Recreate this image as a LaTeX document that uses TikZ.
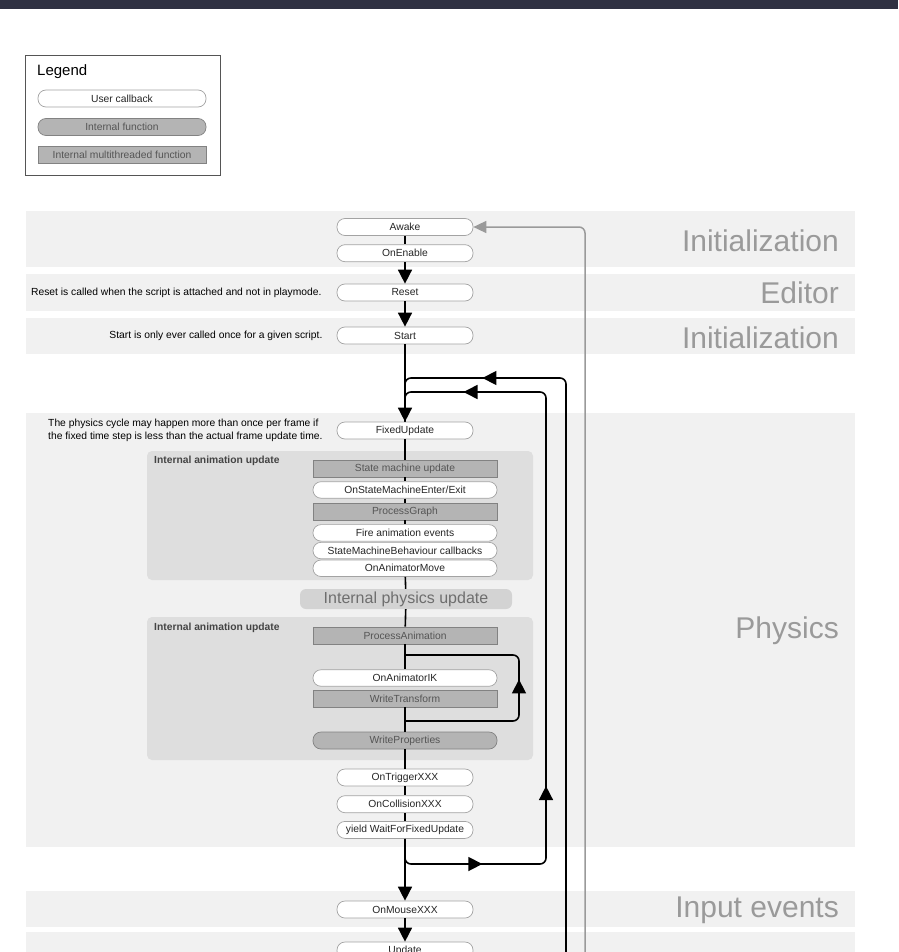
\documentclass[tikz,border=0pt]{standalone}
\usepackage{fontspec}
\setmainfont{Liberation Sans}
\usetikzlibrary{arrows.meta, positioning, backgrounds, decorations.markings}
\definecolor{unitybar}{HTML}{2F3142}
\definecolor{unityband}{HTML}{F1F1F1}
\definecolor{unitygroup}{HTML}{DEDEDE}
\definecolor{unityphys}{HTML}{D3D3D3}
\definecolor{unityinternal}{HTML}{B4B4B4}
\definecolor{unityedge}{HTML}{A3A3A3}
\definecolor{unitylabel}{HTML}{9A9A9A}
\definecolor{unitytext}{HTML}{555555}

\begin{document}
\begin{tikzpicture}[
    x=1pt, y=-1pt,
    >={Triangle[width=14pt,length=14pt]},
    every node/.style={font=\fontsize{10.3}{12.4}\selectfont},
    callback/.style={rectangle, draw=unityedge, fill=white, line width=0.7pt, rounded corners=8pt, minimum width=136pt, minimum height=17pt, inner sep=0pt, text=black!85},
    animcallback/.style={callback, minimum width=184pt, minimum height=16.5pt},
    internal/.style={callback, draw=unityedge!80!black, fill=unityinternal, text=unitytext},
    multithread/.style={rectangle, draw=unityedge!80!black, fill=unityinternal, line width=0.7pt, minimum width=184pt, minimum height=17pt, inner sep=0pt, text=unitytext},
    physbox/.style={rectangle, fill=unityphys, rounded corners=6pt, minimum width=212pt, minimum height=20pt, inner sep=0pt, text=unitytext!85, font=\fontsize{16}{19}\selectfont},
    section/.style={anchor=base east, inner sep=0pt, text=unitylabel, font=\fontsize{30}{36}\selectfont},
    grouplabel/.style={anchor=west, inner sep=0pt, text=unitytext!80!black, font=\bfseries\fontsize{10.3}{12.4}\selectfont},
    note/.style={anchor=east, inner sep=0pt, text=black, align=left},
    group/.style={fill=unitygroup, rounded corners=5pt},
    band/.style={fill=unityband},
    flow/.style={line width=1.6pt, black},
    midtips/.style={postaction={decorate}, decoration={markings, #1}}
]
\useasboundingbox (0,0) rectangle (898,952);
\clip (0,0) rectangle (898,952);

% Legend
\node[draw=unitytext, line width=0.8pt, minimum width=195pt, minimum height=120pt, anchor=north west] (legend) at (25,55) {};
\node[anchor=west, inner sep=0pt, font=\fontsize{15}{18}\selectfont] (legendtitle) at (37,72) {Legend};
\node[callback, minimum width=168pt] (usercb) at (122,98.5) {User callback};
\node[internal, minimum width=168pt] (internalfn) at (122,127) {Internal function};
\node[multithread, minimum width=168pt] (multifn) at (122,155) {Internal multithreaded function};

% Initialization, Editor
\node[callback] (awake) at (405,227) {Awake};
\node[callback, below=8.5pt of awake] (onenable) {OnEnable};
\node[callback] (reset) at (405,292.5) {Reset};
\node[callback] (start) at (405,335.5) {Start};
\node[note, left=15pt of reset] (resetnote) {Reset is called when the script is attached and not in playmode.};
\node[note, left=14pt of start] (startnote) {Start is only ever called once for a given script.};

% Physics
\node[callback] (fixedupdate) at (405,430.5) {FixedUpdate};
\node[note, left=14pt of fixedupdate] (physnote) {The physics cycle may happen more than once per frame if\\the fixed time step is less than the actual frame update time.};

\node[grouplabel] (animlabel) at (154,461) {Internal animation update};
\node[multithread] (smupdate) at (405,468.5) {State machine update};
\node[animcallback, below=4pt of smupdate] (smenterexit) {OnStateMachineEnter/Exit};
\node[multithread, below=4pt of smenterexit] (processgraph) {ProcessGraph};
\node[animcallback, below=4pt of processgraph] (fireevents) {Fire animation events};
\node[animcallback, below=0.5pt of fireevents] (smbcallbacks) {StateMachineBehaviour callbacks};
\node[animcallback, below=0.5pt of smbcallbacks] (animmove) {OnAnimatorMove};

\node[physbox] (physupdate) at (406,599) {Internal physics update};

\node[grouplabel] (animlabeltwo) at (154,628) {Internal animation update};
\node[multithread] (processanim) at (405,635.5) {ProcessAnimation};
\node[animcallback] (animik) at (405,678) {OnAnimatorIK};
\node[multithread] (writetransform) at (405,698.5) {WriteTransform};
\node[internal, minimum width=184pt] (writeprops) at (405,740.5) {WriteProperties};
\coordinate (iktop) at (405,655);
\coordinate (ikbottom) at (405,721);

\node[callback] (ontrigger) at (405,777.5) {OnTriggerXXX};
\node[callback, below=9pt of ontrigger] (oncollision) {OnCollisionXXX};
\node[callback, below=8pt of oncollision] (yield) {yield WaitForFixedUpdate};

% Input events, game logic
\node[callback] (onmouse) at (405,909.5) {OnMouseXXX};
\node[callback] (update) at (405,950.5) {Update};

% Section labels
\node[section] (initlabel) at (839,251) {Initialization};
\node[section] (editorlabel) at (839,303) {Editor};
\node[section] (startlabel) at (839,348) {Initialization};
\node[section] (physicslabel) at (839,638) {Physics};
\node[section] (inputlabel) at (839,917) {Input events};

% Bands and groups
\begin{scope}[on background layer]
\fill[unitybar] (0,0) rectangle (898,9);
\fill[band] (26,211) rectangle (855,267);
\fill[band] (26,274) rectangle (855,311);
\fill[band] (26,318) rectangle (855,354);
\fill[band] (26,413) rectangle (855,847);
\fill[band] (26,891) rectangle (855,927);
\fill[band] (26,932) rectangle (855,952);
\fill[group] (147,451) rectangle (533,580);
\fill[group] (147,617) rectangle (533,760);
\end{scope}

% Main flow
\draw[flow] (awake) -- (onenable);
\draw[flow, ->] (onenable) -- (reset);
\draw[flow, ->] (reset) -- (start);
\draw[flow, ->] (start) -- (fixedupdate);
\draw[flow] (fixedupdate) -- (smupdate);
\draw[flow] (smupdate) -- (smenterexit);
\draw[flow] (smenterexit) -- (processgraph);
\draw[flow] (processgraph) -- (fireevents);
\draw[flow] (animmove) -- (physupdate);
\draw[flow] (physupdate) -- (processanim);
\draw[flow] (processanim) -- (animik);
\draw[flow] (writetransform) -- (writeprops);
\draw[flow] (writeprops) -- (ontrigger);
\draw[flow] (ontrigger) -- (oncollision);
\draw[flow] (oncollision) -- (yield);
\draw[flow, ->] (yield) -- (onmouse);
\draw[flow, ->] (onmouse) -- (update);

% Loops
\draw[flow, rounded corners=6pt, midtips={mark=at position 153pt with {\arrow{>}}}] (ikbottom) -- (519,721) -- (519,655) -- (iktop);
\draw[flow, rounded corners=6pt, midtips={mark=at position 100pt with {\arrow{>}}, mark=at position 239pt with {\arrow{>}}, mark=at position 713pt with {\arrow{>}}}] (yield) |- (546,864) -- (546,392) -| (fixedupdate);
\coordinate (frameloop) at (566,952);
\draw[flow, rounded corners=6pt, midtips={mark=at position 655pt with {\arrow{>}}}] (frameloop) -- (566,378) -| (fixedupdate);
\coordinate (awakeloop) at (585,952);
\draw[line width=1.5pt, unitylabel, rounded corners=6pt, -{Triangle[width=12pt,length=13pt]}] (awakeloop) -- (585,227) -- (awake);

\end{tikzpicture}
\end{document}
